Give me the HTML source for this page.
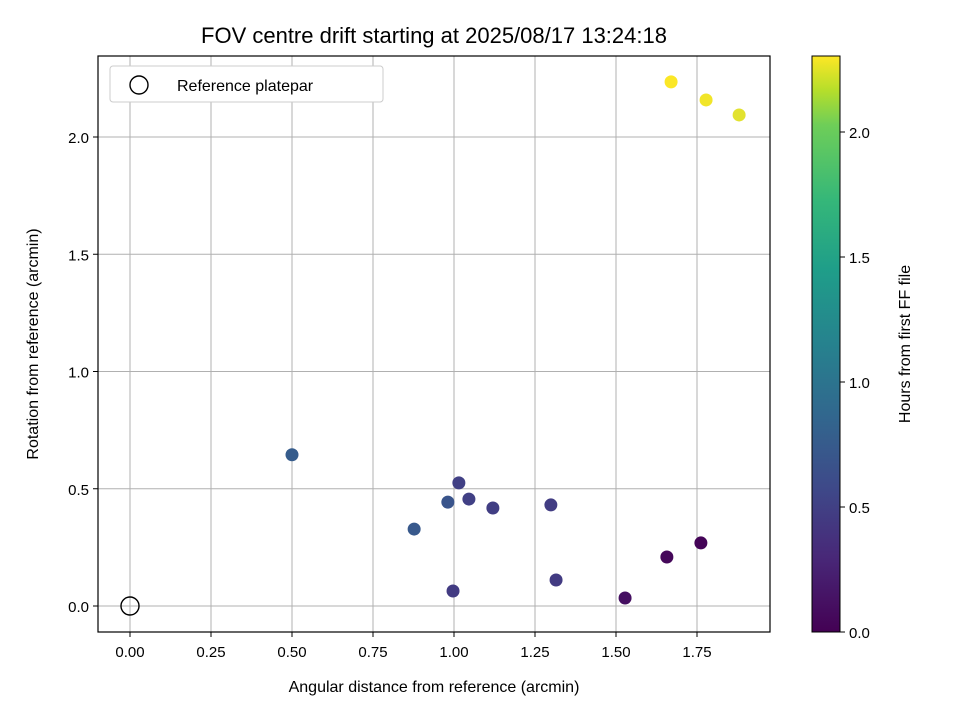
<!DOCTYPE html>
<html><head><meta charset="utf-8"><style>
body{margin:0;background:#fff}
svg text{font-family:"Liberation Sans",sans-serif;fill:#000}
</style></head><body>
<svg id="chart" width="960" height="720" xmlns="http://www.w3.org/2000/svg">
<defs><linearGradient id="vir" x1="0" y1="1" x2="0" y2="0">
<stop offset="0" stop-color="#440154"/><stop offset="0.13" stop-color="#482878"/><stop offset="0.25" stop-color="#3e4989"/><stop offset="0.38" stop-color="#31688e"/><stop offset="0.5" stop-color="#26828e"/><stop offset="0.63" stop-color="#1f9e89"/><stop offset="0.75" stop-color="#35b779"/><stop offset="0.88" stop-color="#6ece58"/><stop offset="0.94" stop-color="#b5de2b"/><stop offset="1" stop-color="#fde725"/>
</linearGradient></defs>
<text x="434" y="43" font-size="22" text-anchor="middle">FOV centre drift starting at 2025/08/17 13:24:18</text>
<g id="grid"></g>
<g id="pts"></g>
<rect x="98" y="56" width="672" height="576" fill="none" stroke="#000" stroke-width="1.2"/>
<g id="ticks"></g>
<text x="434" y="692" font-size="16" text-anchor="middle">Angular distance from reference (arcmin)</text>
<text transform="translate(38,344) rotate(-90)" font-size="16" text-anchor="middle">Rotation from reference (arcmin)</text>
<g>
<rect x="110" y="66" width="273" height="36" rx="3" fill="#fff" stroke="#ccc"/>
<circle cx="139" cy="85" r="9" fill="none" stroke="#000" stroke-width="1.4"/>
<text x="177" y="91" font-size="16">Reference platepar</text>
</g>
<rect x="812" y="56" width="28" height="576" fill="url(#vir)" stroke="#000" stroke-width="1"/>
<g id="cbt"></g>
<text transform="translate(910,344) rotate(-90)" font-size="16" text-anchor="middle">Hours from first FF file</text>
</svg>
<script>
const xVals=[0.50,0.877,0.981,1.015,1.046,1.12,1.299,0.997,1.315,1.528,1.657,1.762,1.67,1.778,1.88];
const yVals=[0.645,0.328,0.443,0.525,0.456,0.418,0.431,0.064,0.111,0.034,0.209,0.269,2.235,2.158,2.094];
const hours=[0.75,0.72,0.68,0.5,0.5,0.48,0.47,0.45,0.45,0.1,0.05,0.02,2.3,2.28,2.25];
const xTicks=[0,0.25,0.5,0.75,1.0,1.25,1.5,1.75];
const yTicks=[0,0.5,1.0,1.5,2.0];
const cTicks=[0,0.5,1.0,1.5,2.0];
const NS="http://www.w3.org/2000/svg";
const X=v=>130+v*324, Y=v=>606-v*234.5, C=v=>632-v*250;
const vir=["#440154","#482878","#3e4989","#31688e","#26828e","#1f9e89","#35b779","#6ece58","#fde725"];
function col(h){let t=Math.max(0,Math.min(1,h/2.304))*8,i=Math.min(7,Math.floor(t)),f=t-i;
const a=vir[i],b=vir[i+1];let o=[];for(let k=1;k<7;k+=2){o.push(Math.round(parseInt(a.substr(k,2),16)*(1-f)+parseInt(b.substr(k,2),16)*f));}return `rgb(${o})`;}
function mk(p,t,at){const e=document.createElementNS(NS,t);for(const k in at)e.setAttribute(k,at[k]);document.getElementById(p).appendChild(e);return e;}
xTicks.forEach(v=>{
const g=mk('grid','line',{x1:X(v),x2:X(v),y1:56,y2:632,stroke:'#b0b0b0','stroke-width':1});


const t=mk('ticks','line',{x1:X(v),x2:X(v),y1:632,y2:637,stroke:'#000'});


const l=mk('ticks','text',{x:X(v),y:657,'font-size':15,'text-anchor':'middle'});l.textContent=v.toFixed(2);


});
yTicks.forEach(v=>{
const g=mk('grid','line',{x1:98,x2:770,y1:Y(v),y2:Y(v),stroke:'#b0b0b0','stroke-width':1});


const t=mk('ticks','line',{x1:93,x2:98,y1:Y(v),y2:Y(v),stroke:'#000'});


const l=mk('ticks','text',{x:89,y:Y(v)+6,'font-size':15,'text-anchor':'end'});l.textContent=v.toFixed(1);


});
cTicks.forEach(v=>{
const t=mk('cbt','line',{x1:840,x2:845,y1:C(v),y2:C(v),stroke:'#000'});


const l=mk('cbt','text',{x:849,y:C(v)+6,'font-size':15});l.textContent=v.toFixed(1);


});
const r=mk('pts','circle',{cx:X(0),cy:Y(0),r:9,fill:'none',stroke:'#000','stroke-width':1.4});


xVals.forEach((v,i)=>{
const c=mk('pts','circle',{cx:X(v),cy:Y(yVals[i]),r:6.5,fill:col(hours[i])});


});
</script>
</body></html>
